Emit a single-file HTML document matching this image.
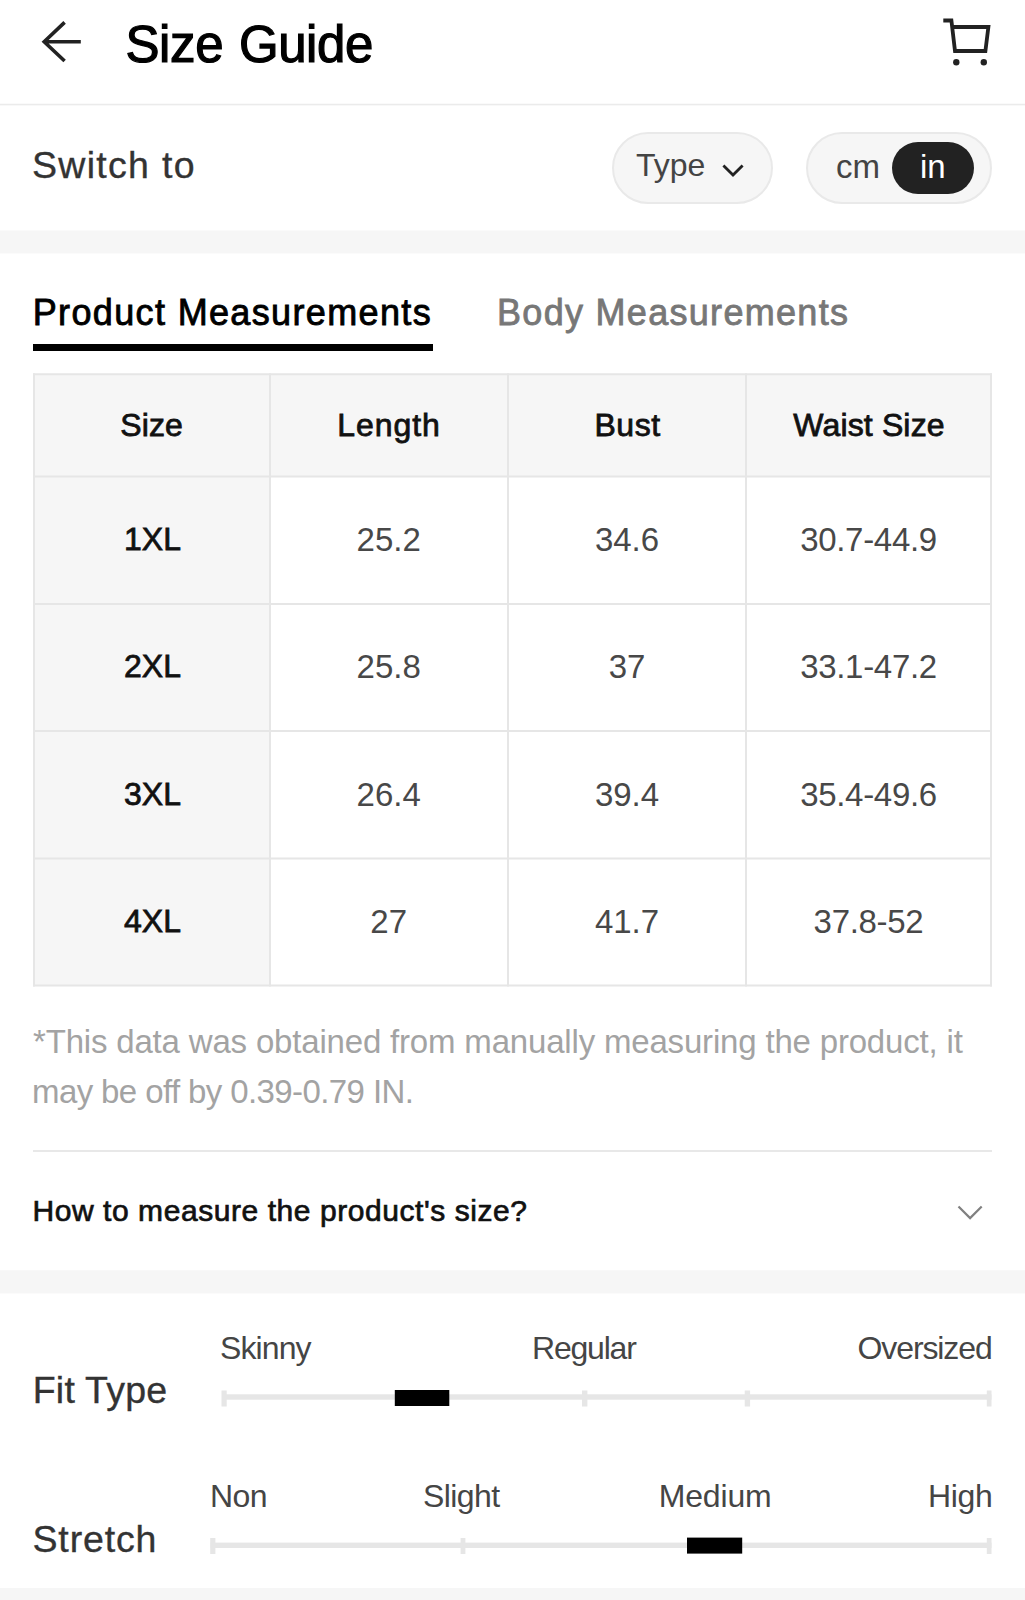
<!DOCTYPE html>
<html lang="en">
<head>
<meta charset="utf-8">
<title>Size Guide</title>
<style>
*{box-sizing:border-box;margin:0;padding:0}
html,body{width:1025px;height:1600px;overflow:hidden;background:#fff}
body{position:relative;font-family:"Liberation Sans",Arial,sans-serif;color:#111}
.abs{position:absolute}
.t{position:absolute;white-space:nowrap;line-height:1}
.band{position:absolute;left:0;width:1025px;background:#f6f6f6}
.m{-webkit-text-stroke:0.8px currentColor}
.pill{position:absolute;border:2px solid #e9e9e9;background:#f6f6f6;border-radius:36px}
.c{position:absolute;white-space:nowrap;line-height:1;text-align:center;transform:translateX(-50%);font-size:33px}
.c.m{font-size:32px}
.v{color:#484848}
.h{color:#111}
.lab{font-size:32px;color:#454545;letter-spacing:-0.9px}
</style>
</head>
<body>
<!-- header -->
<svg class="abs" style="left:0;top:0" width="1025" height="104" viewBox="0 0 1025 104" fill="none" stroke="#222">
<path d="M64.6 22.4 L44.2 41.7 L64.6 61 M44.2 41.7 H80.8" stroke-width="3.6"/>
<path d="M943.3 20.5 H951.4 L955 51 H985.4 L988.4 27 H952.4" stroke-width="3.8"/>
<circle cx="956.3" cy="62.2" r="3.2" fill="#222" stroke="none"/><circle cx="983.8" cy="62.2" r="3.2" fill="#222" stroke="none"/>
</svg>
<div class="t" id="title" style="left:125.5px;top:18.8px;font-size:51px;font-weight:400;color:#000;letter-spacing:-0.4px;word-spacing:2px;-webkit-text-stroke:1.2px #000">Size Guide</div>
<div class="abs" style="left:0;top:103px;width:1025px;height:3px;background:linear-gradient(#fafafa 0,#fafafa 33.3%,#ebebeb 33.3%,#ebebeb 66.6%,#f8f8f8 66.6%)"></div>

<!-- switch row -->
<div class="t" id="switch" style="left:32px;top:147px;font-size:37.5px;color:#333;letter-spacing:1.3px;-webkit-text-stroke:0.35px #333">Switch to</div>
<div class="pill" style="left:612px;top:132px;width:161px;height:72px"></div>
<div class="t" id="type" style="left:636px;top:149px;font-size:32px;color:#444;letter-spacing:0px">Type</div>
<svg class="abs" style="left:715px;top:155px" width="36" height="30" viewBox="715 155 36 30" fill="none" stroke="#222" stroke-width="2.8"><path d="M723.4 165.4 L733 175 L742.6 165.4"/></svg>
<div class="pill" style="left:806px;top:132px;width:186px;height:72px"></div>
<div class="abs" style="left:892px;top:141.5px;width:82px;height:52.5px;border-radius:27px;background:#222"></div>
<div class="t" id="cm" style="left:836px;top:149.5px;font-size:33px;color:#444">cm</div>
<div class="t" id="in" style="left:920px;top:149.5px;font-size:33px;color:#fff">in</div>
<div class="band" style="top:230px;height:24px;background:linear-gradient(#fafafa 0,#fafafa 1px,#f6f6f6 1px,#f6f6f6 23px,#fbfbfb 23px)"></div>

<!-- tabs -->
<div class="t" id="tab1" style="left:32.7px;top:295px;font-size:36px;color:#000;letter-spacing:1.36px;-webkit-text-stroke:0.85px #000">Product Measurements</div>
<div class="abs" style="left:33px;top:344px;width:400px;height:7px;background:#000"></div>
<div class="t" id="tab2" style="left:497px;top:295px;font-size:36px;color:#777;letter-spacing:1.3px;-webkit-text-stroke:0.8px #777">Body Measurements</div>

<!-- table -->
<svg class="abs" id="grid" style="left:0;top:370px" width="1025" height="620" viewBox="0 370 1025 620">
<rect x="34" y="374" width="957" height="102.5" fill="#f6f6f6"/>
<rect x="34" y="374" width="236" height="611.5" fill="#f6f6f6"/>
<g stroke="#e6e6e6" stroke-width="2" fill="none">
<path d="M34 373.3V986.5M270 373.3V986.5M508 373.3V986.5M746 373.3V986.5M991 373.3V986.5"/>
<path d="M33 374.2H992M33 476.5H992M33 604H992M33 731H992M33 858.5H992M33 985.5H992"/>
</g>
</svg>

<div class="c m h" id="h1" style="left:151.7px;top:408.5px;letter-spacing:0.1px">Size</div>
<div class="c m h" id="h2" style="left:389px;top:408.5px;letter-spacing:0.9px">Length</div>
<div class="c m h" id="h3" style="left:627.5px;top:408.5px;letter-spacing:0.5px">Bust</div>
<div class="c m h" id="h4" style="left:869px;top:408.5px;letter-spacing:0.15px">Waist Size</div>

<div class="c m h" id="r1a" style="letter-spacing:0px;left:152.5px;top:523px">1XL</div>
<div class="c v" id="r1b" style="left:388.7px;top:523px">25.2</div>
<div class="c v" id="r1c" style="left:627px;top:523px">34.6</div>
<div class="c v" id="r1d" style="letter-spacing:-0.3px;left:868.5px;top:523px">30.7-44.9</div>

<div class="c m h" id="r2a" style="letter-spacing:0px;left:152.5px;top:650px">2XL</div>
<div class="c v" id="r2b" style="left:388.7px;top:650px">25.8</div>
<div class="c v" id="r2c" style="left:627px;top:650px">37</div>
<div class="c v" id="r2d" style="letter-spacing:-0.3px;left:868.5px;top:650px">33.1-47.2</div>

<div class="c m h" id="r3a" style="letter-spacing:0px;left:152.5px;top:777.5px">3XL</div>
<div class="c v" id="r3b" style="left:388.7px;top:777.5px">26.4</div>
<div class="c v" id="r3c" style="left:627px;top:777.5px">39.4</div>
<div class="c v" id="r3d" style="letter-spacing:-0.3px;left:868.5px;top:777.5px">35.4-49.6</div>

<div class="c m h" id="r4a" style="letter-spacing:0px;left:152.5px;top:905px">4XL</div>
<div class="c v" id="r4b" style="left:388.7px;top:905px">27</div>
<div class="c v" id="r4c" style="left:627px;top:905px">41.7</div>
<div class="c v" id="r4d" style="letter-spacing:-0.3px;left:868.5px;top:905px">37.8-52</div>

<!-- note -->
<div class="t" id="n1" style="left:33px;top:1025px;font-size:33px;color:#a3a3a3;letter-spacing:-0.18px">*This data was obtained from manually measuring the product, it</div>
<div class="t" id="n2" style="left:32px;top:1075px;font-size:33px;color:#a3a3a3;letter-spacing:-0.6px">may be off by 0.39-0.79 IN.</div>
<div class="abs" style="left:33px;top:1150px;width:959px;height:2px;background:#e8e8e8"></div>
<div class="t" id="how" style="-webkit-text-stroke:0.7px #111;left:32.5px;top:1196px;font-size:30px;color:#111;letter-spacing:0.56px">How to measure the product's size?</div>
<svg class="abs" style="left:950px;top:1195px" width="40" height="35" viewBox="950 1195 40 35" fill="none" stroke="#808080" stroke-width="2.2"><path d="M958.5 1206.5 L970.1 1218.1 L981.7 1206.5"/></svg>
<div class="band" style="top:1270px;height:24px;background:linear-gradient(#f8f8f8 0,#f8f8f8 1px,#f6f6f6 1px,#f6f6f6 23px,#fbfbfb 23px)"></div>

<!-- fit type -->
<div class="t" id="fit" style="-webkit-text-stroke:0.35px #333;left:32.7px;top:1371.6px;font-size:37.5px;color:#333;letter-spacing:0.25px">Fit Type</div>
<div class="t lab" id="f1" style="left:220px;top:1332px">Skinny</div>
<div class="t lab" id="f2" style="letter-spacing:-1.2px;left:532px;top:1332px">Regular</div>
<div class="t lab" id="f3" style="letter-spacing:-1.1px;left:857.5px;top:1332px">Oversized</div>
<svg class="abs" style="left:200px;top:1385px" width="825" height="30" viewBox="200 1385 825 30">
<g fill="#e6e6e6"><rect x="222" y="1394.3" width="769.5" height="5.4"/>
<rect x="221.5" y="1390.5" width="5.2" height="16"/><rect x="582" y="1390.5" width="5.4" height="16"/><rect x="744.7" y="1390.5" width="5.4" height="16"/><rect x="986.8" y="1390.5" width="4.7" height="16"/></g>
<rect x="394.8" y="1390" width="54.5" height="16" fill="#000"/>
</svg>

<!-- stretch -->
<div class="t" id="str" style="-webkit-text-stroke:0.35px #333;letter-spacing:0.85px;left:32.5px;top:1520.7px;font-size:37.5px;color:#333">Stretch</div>
<div class="t lab" id="s1" style="letter-spacing:-0.6px;left:210px;top:1480px">Non</div>
<div class="t lab" id="s2" style="letter-spacing:-0.6px;left:423px;top:1480px">Slight</div>
<div class="t lab" id="s3" style="letter-spacing:-0.15px;left:658.7px;top:1480px">Medium</div>
<div class="t lab" id="s4" style="letter-spacing:-0.3px;left:928px;top:1480px">High</div>
<svg class="abs" style="left:200px;top:1530px" width="825" height="30" viewBox="200 1530 825 30">
<g fill="#e6e6e6"><rect x="210.5" y="1542.6" width="781" height="5.4"/>
<rect x="210.2" y="1538" width="5.2" height="16"/><rect x="460.6" y="1538" width="4.8" height="16"/><rect x="986.8" y="1538" width="4.7" height="16"/></g>
<rect x="687" y="1537.6" width="55.2" height="16" fill="#000"/>
</svg>
<div class="band" style="top:1588px;height:12px"></div>
</body>
</html>
